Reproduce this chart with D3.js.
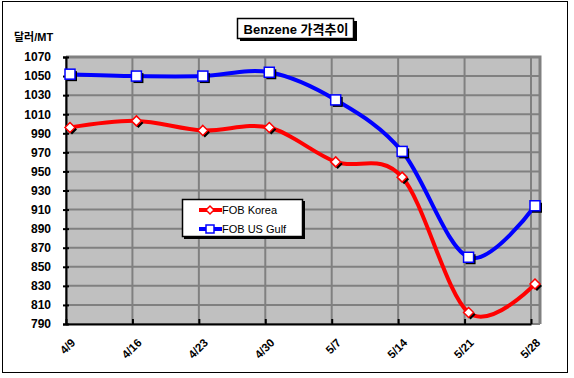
<!DOCTYPE html>
<html>
<head>
<meta charset="utf-8">
<script src="https://cdn.jsdelivr.net/npm/d3@7"></script>
<style>
body{margin:0;background:#fff;}
text{font-family:"Liberation Sans",Arial,"Noto Sans CJK KR",sans-serif;}
</style>
</head>
<body>
<div id="chart"></div>
<script>
var dates = ["4/9","4/16","4/23","4/30","5/7","5/14","5/21","5/28"];
var korea = [996, 1003, 993, 996, 960, 944, 802, 832];
var usGulf = [1052, 1050, 1050, 1054, 1025, 971, 860, 914];
var yTicks = [790, 810, 830, 850, 870, 890, 910, 930, 950, 970, 990, 1010, 1030, 1050, 1070];

var W = 574, H = 378;
var plotLeft = 66, plotRight = 540, plotTop = 57, plotBottom = 324;

var svg = d3.select("#chart").append("svg")
    .attr("width", W)
    .attr("height", H);

// outer frame
svg.append("rect").attr("x", 2.5).attr("y", 1.5).attr("width", 565).attr("height", 371)
    .attr("fill", "#fff").attr("stroke", "#000").attr("stroke-width", 1);

var xScale = d3.scalePoint().domain(dates).range([plotLeft, 531]);
var yScale = d3.scaleLinear().domain([790, 1070]).range([plotBottom, plotTop]);
var off = 4; // markers sit a bit right of the gridlines

// plot area
svg.append("rect").attr("x", plotLeft).attr("y", plotTop)
    .attr("width", plotRight - plotLeft).attr("height", plotBottom - plotTop)
    .attr("fill", "#c0c0c0");

// grid
svg.append("g").selectAll("line").data(yTicks).join("line")
    .attr("x1", plotLeft).attr("x2", plotRight)
    .attr("y1", d => yScale(d)).attr("y2", d => yScale(d))
    .attr("stroke", "#808080").attr("stroke-width", 2);
svg.append("g").selectAll("line").data(dates).join("line")
    .attr("x1", d => xScale(d)).attr("x2", d => xScale(d))
    .attr("y1", plotTop).attr("y2", plotBottom)
    .attr("stroke", "#808080").attr("stroke-width", 2);

// top / right border
svg.append("path")
    .attr("d", "M" + plotLeft + "," + plotTop + "H" + plotRight + "V" + plotBottom)
    .attr("fill", "none").attr("stroke", "#808080").attr("stroke-width", 3);

// axes
var yAxis = svg.append("g")
    .attr("transform", "translate(" + plotLeft + ",0)")
    .call(d3.axisLeft(yScale).tickValues(yTicks).tickSize(3).tickPadding(12).tickFormat(d3.format("d")));
yAxis.select(".domain").attr("stroke", "#000").attr("stroke-width", 2);
yAxis.selectAll(".tick line").attr("stroke", "#000").attr("stroke-width", 2).attr("x2", 3).attr("x1", -3);
yAxis.selectAll("text").attr("font-size", 12).attr("font-weight", "bold").attr("fill", "#000");

var xAxis = svg.append("g")
    .attr("transform", "translate(0," + plotBottom + ")")
    .call(d3.axisBottom(xScale).tickSize(-5).tickSizeOuter(0).tickPadding(8));
xAxis.select(".domain").attr("stroke", "#000").attr("stroke-width", 2);
xAxis.selectAll(".tick line").attr("stroke", "#000").attr("stroke-width", 2);
xAxis.selectAll("text")
    .attr("font-size", 11.5).attr("font-weight", "bold").attr("fill", "#000")
    .attr("text-anchor", "end")
    .attr("transform", "translate(1,11) rotate(-45)")
    .attr("dy", "0.35em");

// lines
var line = d3.line()
    .x((d, i) => xScale(dates[i]) + off)
    .y(d => yScale(d))
    .curve(d3.curveCatmullRom.alpha(0));

svg.append("path").datum(korea)
    .attr("fill", "none").attr("stroke", "#ff0000").attr("stroke-width", 4)
    .attr("d", line);
svg.append("path").datum(usGulf)
    .attr("fill", "none").attr("stroke", "#0000ff").attr("stroke-width", 4)
    .attr("d", line);

// markers
var diamond = "M0,-5L5,0L0,5L-5,0Z";
var gK = svg.append("g");
gK.selectAll(".sh").data(korea).join("path")
    .attr("transform", (d, i) => "translate(" + (xScale(dates[i]) + off + 2) + "," + (yScale(d) + 2) + ")")
    .attr("d", diamond).attr("fill", "#000");
gK.selectAll(".mk").data(korea).join("path")
    .attr("transform", (d, i) => "translate(" + (xScale(dates[i]) + off) + "," + yScale(d) + ")")
    .attr("d", diamond).attr("fill", "#fff").attr("stroke", "#ff0000").attr("stroke-width", 1.5);

var gU = svg.append("g");
gU.selectAll(".sh").data(usGulf).join("rect")
    .attr("x", (d, i) => xScale(dates[i]) + off - 3).attr("y", d => yScale(d) - 3)
    .attr("width", 10).attr("height", 10).attr("fill", "#000");
gU.selectAll(".mk").data(usGulf).join("rect")
    .attr("x", (d, i) => xScale(dates[i]) + off - 5).attr("y", d => yScale(d) - 5)
    .attr("width", 10).attr("height", 10)
    .attr("fill", "#fff").attr("stroke", "#0000ff").attr("stroke-width", 1.5);

// y unit
svg.append("text").attr("x", 14).attr("y", 41)
    .attr("font-size", 11).attr("font-weight", "bold")
    .text("달러/MT");

// title
svg.append("rect").attr("x", 240).attr("y", 21).attr("width", 117).attr("height", 20).attr("fill", "#000");
svg.append("rect").attr("x", 237.5).attr("y", 18.5).attr("width", 116).attr("height", 20)
    .attr("fill", "#fff").attr("stroke", "#000").attr("stroke-width", 1.5);
svg.append("text").attr("x", 296).attr("y", 33.5).attr("text-anchor", "middle")
    .attr("font-size", 13).attr("font-weight", "bold")
    .text("Benzene 가격추이");

// legend
var leg = svg.append("g");
leg.append("rect").attr("x", 184).attr("y", 201).attr("width", 121).attr("height", 38).attr("fill", "#000");
leg.append("rect").attr("x", 182.5).attr("y", 199.5).attr("width", 120).attr("height", 37)
    .attr("fill", "#fff").attr("stroke", "#000").attr("stroke-width", 1.5);
var legItems = [
    {name: "FOB Korea", color: "#ff0000", shape: "diamond"},
    {name: "FOB US Gulf", color: "#0000ff", shape: "square"}
];
legItems.forEach(function(it, i) {
    var y = 210 + i * 19;
    leg.append("line").attr("x1", 199).attr("x2", 222).attr("y1", y).attr("y2", y)
        .attr("stroke", it.color).attr("stroke-width", 4);
    if (it.shape == "diamond") {
        leg.append("path").attr("transform", "translate(210," + y + ")")
            .attr("d", "M0,-4L4,0L0,4L-4,0Z").attr("fill", "#fff").attr("stroke", it.color).attr("stroke-width", 1.5);
    } else {
        leg.append("rect").attr("x", 206).attr("y", y - 4).attr("width", 8).attr("height", 8)
            .attr("fill", "#fff").attr("stroke", it.color).attr("stroke-width", 1.5);
    }
    leg.append("text").attr("x", 222).attr("y", y + 4)
        .attr("font-size", 11)
        .text(it.name);
});
</script>
</body>
</html>
